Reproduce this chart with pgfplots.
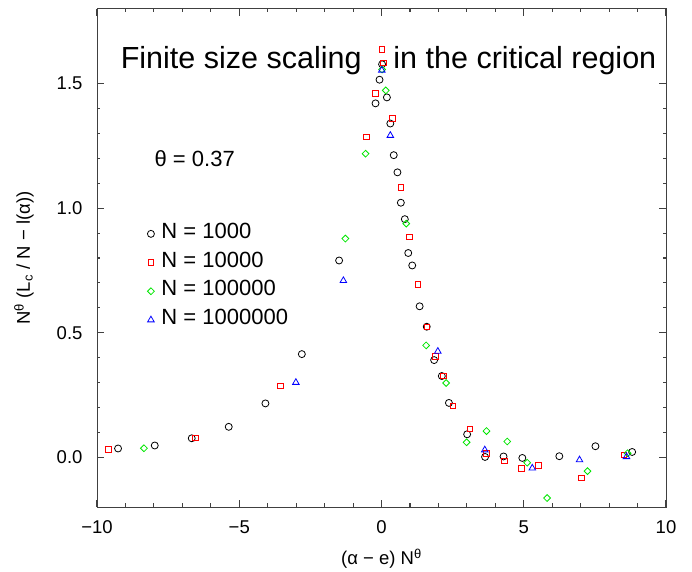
\documentclass[border=0pt]{standalone}
\usepackage{pgfplots}
\pgfplotsset{compat=1.18}
\usepackage{fontspec}
\setmainfont{Liberation Sans}
\definecolor{myred}{RGB}{255,0,0}
\definecolor{mygreen}{RGB}{0,230,0}
\definecolor{myblue}{RGB}{0,0,255}
\begin{document}
\begin{tikzpicture}
\path (0pt,0pt) (692pt,567pt);
\begin{axis}[
  at={(97pt,60pt)}, anchor=south west,
  scale only axis, width=569pt, height=498pt,
  xmin=-10, xmax=10, ymin=-0.2, ymax=1.8,
  xtick={-10,-5,0,5,10}, xticklabels={−10,−5,0,5,10},
  ytick={0,0.5,1,1.5}, yticklabels={0.0,0.5,1.0,1.5},
  minor x tick num=4, minor y tick num=4,
  tick align=inside, tick pos=both,
  major tick length=7pt, minor tick length=3.5pt,
  axis line style={black!75, line width=1pt},
  every tick/.append style={black!75, line width=1.1pt},
  ticklabel style={font=\fontsize{18.5}{20}\selectfont},
  xticklabel style={yshift=-10pt},
  yticklabel style={xshift=-11pt},
  label style={font=\fontsize{18.5}{20}\selectfont},
  xlabel={(α − e) N\textsuperscript{θ}},
  ylabel={N\textsuperscript{θ} (L\textsubscript{c} / N − l(α))},
  xlabel style={at={(axis description cs:0.5,-0.116)}, anchor=base},
  ylabel style={at={(axis description cs:-0.1178,0.5)}, anchor=base, rotate=0},
  legend style={draw=none, fill=none, at={(axis cs:-8.34,0.956)}, anchor=north west,
    font=\fontsize{22}{26}\selectfont, row sep=10.7pt,
    nodes={inner sep=1pt, text height=16pt, text depth=0pt},
    /tikz/every odd column/.style={column sep=6pt}},
  legend cell align=left,
  legend image code/.code={\draw[#1] plot coordinates {(0pt,-3.5pt)};},
  every axis plot/.append style={line width=0.8pt},
]
\addplot[only marks, mark=o, mark size=3.5pt, black] coordinates {
(-9.26,0.035) (-7.97,0.047) (-6.67,0.076) (-5.37,0.122) (-4.08,0.216) (-2.80,0.414)
(-1.49,0.79) (-0.21,1.421) (-0.07,1.516) (0.02,1.578) (0.19,1.445) (0.31,1.34)
(0.43,1.213) (0.56,1.144) (0.68,1.022) (0.82,0.956) (0.94,0.82) (1.08,0.77)
(1.34,0.606) (1.59,0.524) (1.85,0.39) (2.12,0.326) (2.37,0.218) (3.01,0.092)
(3.64,0.001) (4.29,0.003) (4.95,-0.003) (6.25,0.004) (7.52,0.044) (8.81,0.021)
};
\addlegendentry{N = 1000}
\addplot[only marks, mark=square, mark size=2.8pt, myred] coordinates {
(-9.60,0.031) (-6.55,0.078) (-3.55,0.287) (-0.53,1.287) (-0.22,1.461) (0.02,1.638)
(0.06,1.583) (0.38,1.361) (0.68,1.083) (0.98,0.885) (1.28,0.694) (1.59,0.524)
(1.90,0.405) (2.18,0.327) (2.51,0.206) (3.11,0.114) (3.69,0.015) (4.31,-0.015)
(4.92,-0.046) (5.52,-0.032) (7.03,-0.083) (8.52,0.010)
};
\addlegendentry{N = 10000}
\addplot[only marks, mark=square, mark options={rotate=45}, mark size=2.4pt, mygreen] coordinates {
(-8.35,0.036) (-1.27,0.878) (-0.56,1.219) (0.02,1.557) (0.15,1.473) (0.87,0.938)
(1.57,0.449) (2.27,0.298) (2.99,0.060) (3.69,0.105) (4.42,0.063) (5.12,-0.022)
(5.82,-0.164) (7.24,-0.056) (8.65,0.016)
};
\addlegendentry{N = 100000}
\addplot[only marks, mark=triangle, mark size=3.8pt, myblue] coordinates {
(-3.01,0.30) (-1.34,0.709) (0.01,1.554) (0.31,1.292) (1.98,0.425) (3.63,0.029)
(5.30,-0.044) (6.96,-0.011) (8.61,0.002)
};
\addlegendentry{N = 1000000}
\node[anchor=base west, font=\fontsize{30.5}{36}\selectfont, inner sep=0pt]
  at (axis cs:-9.17,1.562) {Finite size scaling\hspace{32pt}in the critical region};
\node[anchor=base west, font=\fontsize{22}{26}\selectfont, inner sep=0pt]
  at (axis cs:-7.98,1.169) {θ = 0.37};
\end{axis}
\end{tikzpicture}
\end{document}
